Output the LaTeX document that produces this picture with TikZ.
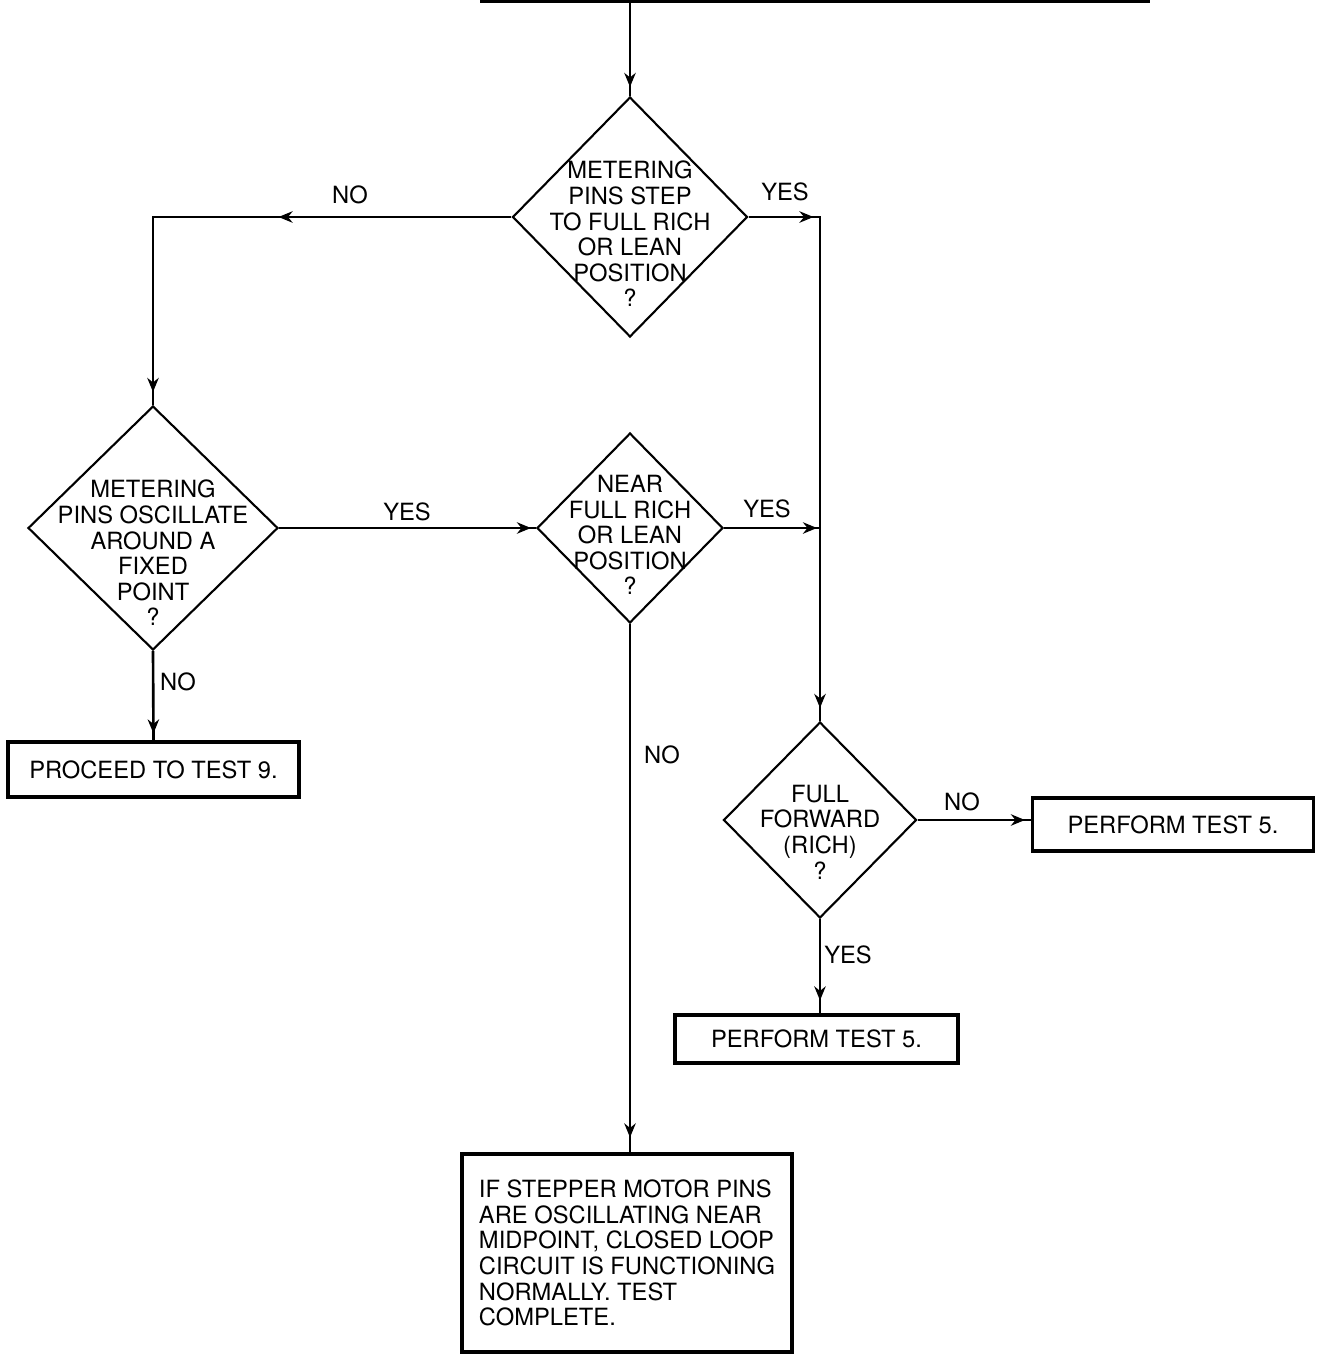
\documentclass[tikz,border=0pt]{standalone}
\usepackage{fontspec}
\setmainfont{TeX Gyre Heros}
\usetikzlibrary{shapes.geometric,arrows.meta,decorations.markings}

\begin{document}
\begin{tikzpicture}[
        x=0.02cm, y=-0.02cm,
        font=\fontsize{13.5}{14.6}\selectfont,
        decision/.style={diamond, draw, line width=1.2pt, inner sep=0pt},
        dtext/.style={align=center, inner sep=0pt},
        action/.style={draw, line width=1.8pt, inner sep=0pt},
        flow/.style={line width=1.5pt},
        tipat/.style={postaction={decorate, decoration={markings,
            mark=at position #1 with {\arrow{Stealth[length=8pt,width=6.5pt]}}}}},
    ]
    \useasboundingbox (0,0) rectangle (1316,1363);

    % bottom edge of the box above (cut off)
    \draw[line width=2.5pt] (480,1) -- (1150,1);
    \coordinate (topin) at (630,1);

    % decisions
    \node[decision, minimum width=4.7cm, minimum height=4.8cm] (d1) at (630,217) {};
    \node[dtext] (d1t) at (630,234) {METERING\\PINS STEP\\TO FULL RICH\\OR LEAN\\POSITION\\?};

    \node[decision, minimum width=5cm, minimum height=4.88cm] (d2) at (153,528) {};
    \node[dtext] (d2t) at (153,553) {METERING\\PINS OSCILLATE\\AROUND A\\FIXED\\POINT\\?};

    \node[decision, minimum width=3.72cm, minimum height=3.8cm] (d3) at (630,528) {};
    \node[dtext] (d3t) at (630,535) {NEAR\\FULL RICH\\OR LEAN\\POSITION\\?};

    \node[decision, minimum width=3.86cm, minimum height=3.92cm] (d4) at (820,820) {};
    \node[dtext] (d4t) at (820,832) {FULL\\FORWARD\\(RICH)\\?};

    % actions
    \node[action, minimum width=5.82cm, minimum height=1.1cm] (test9) at (153.5,769.5) {PROCEED TO TEST 9.};
    \node[action, minimum width=5.62cm, minimum height=1.06cm] (test5a) at (1173,824.5) {PERFORM TEST 5.};
    \node[action, minimum width=5.66cm, minimum height=0.96cm] (test5b) at (816.5,1039) {PERFORM TEST 5.};
    \node[action, minimum width=6.6cm, minimum height=3.96cm, align=left] (done) at (627,1253)
        {IF STEPPER MOTOR PINS\\ARE OSCILLATING NEAR\\MIDPOINT, CLOSED LOOP\\CIRCUIT IS FUNCTIONING\\NORMALLY. TEST\\COMPLETE.};

    % answers
    \foreach \lx/\ly/\ans [count=\k] in {350/195/NO, 785/192/YES, 407/512/YES, 178/682/NO,
                                         767/509/YES, 662/755/NO, 962/802/NO, 848/955/YES}
        \node (ans\k) at (\lx,\ly) {\ans};

    % flow lines
    \draw[flow, tipat=-0.18cm] (topin) -- (d1.north);
    \draw[flow, tipat=4.66cm, tipat=-0.26cm] (d1.west) -| (d2.north);
    \draw[flow, tipat=1.3cm, tipat=-0.26cm] (d1.east) -| (d4.north);
    \draw[flow, tipat=-0.1cm] (d2.east) -- (d3.west);
    \draw[flow, tipat=-0.06cm] (d3.east) -- (d3.east -| d4.north);
    \draw[flow, tipat=-0.14cm] (d2.south) -- (test9.north);
    \draw[flow, tipat=-0.3cm] (d3.south) -- (d3.south |- done.north);
    \draw[flow, tipat=-0.12cm] (d4.east) -- (d4.east -| test5a.west);
    \draw[flow, tipat=-0.26cm] (d4.south) -- (d4.south |- test5b.north);
\end{tikzpicture}
\end{document}
